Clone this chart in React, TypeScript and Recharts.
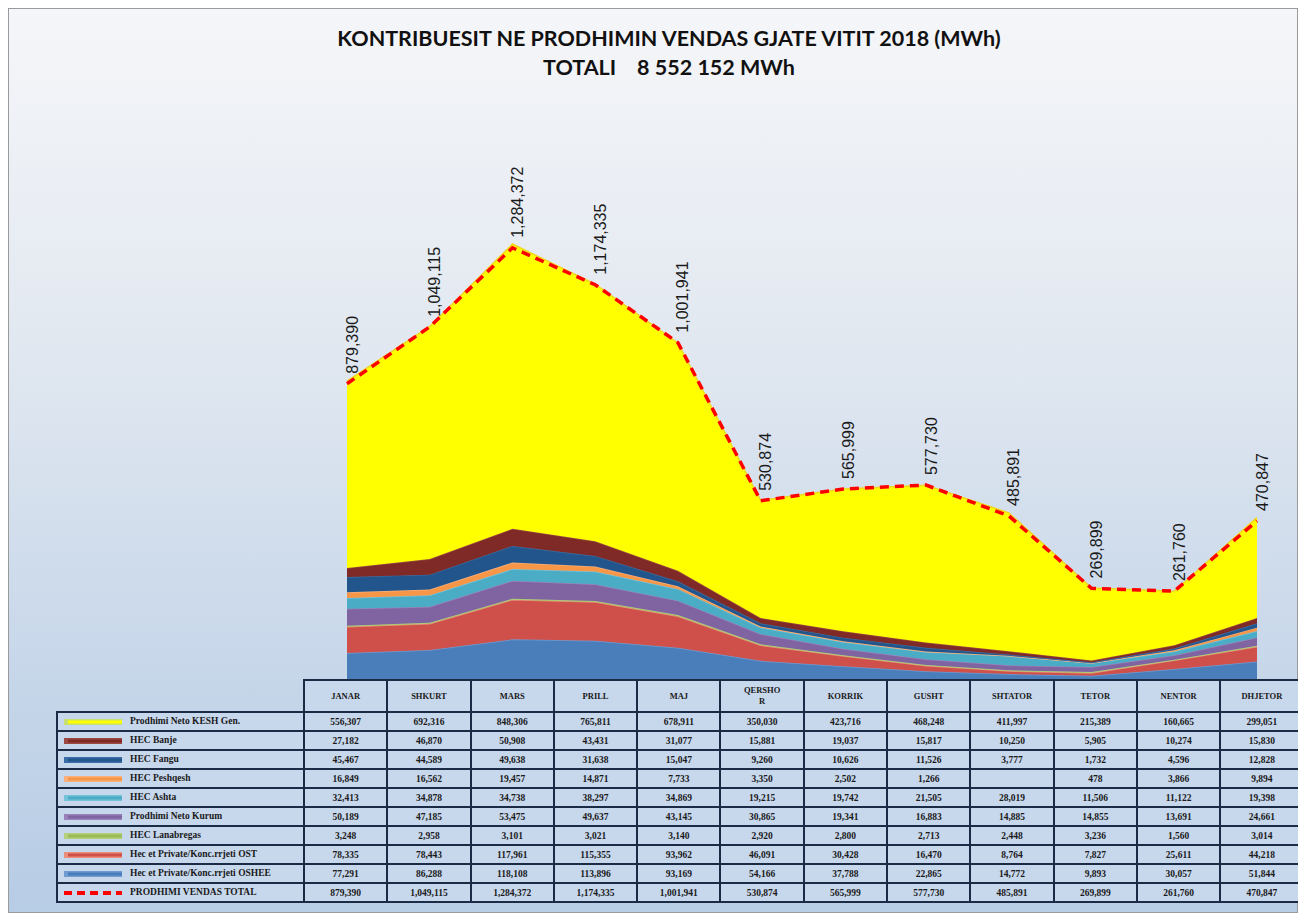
import { ComposedChart, Area, Line, XAxis, YAxis, LabelList } from "recharts";

const months = ["JANAR", "SHKURT", "MARS", "PRILL", "MAJ", "QERSHOR", "KORRIK", "GUSHT", "SHTATOR", "TETOR", "NENTOR", "DHJETOR"];
const monthHeaders = ["JANAR", "SHKURT", "MARS", "PRILL", "MAJ", "QERSHO\nR", "KORRIK", "GUSHT", "SHTATOR", "TETOR", "NENTOR", "DHJETOR"];

const kesh = [556307, 692316, 848306, 765811, 678911, 350030, 423716, 468248, 411997, 215389, 160665, 299051];
const banje = [27182, 46870, 50908, 43431, 31077, 15881, 19037, 15817, 10250, 5905, 10274, 15830];
const fangu = [45467, 44589, 49638, 31638, 15047, 9260, 10626, 11526, 3777, 1732, 4596, 12828];
const peshqesh = [16849, 16562, 19457, 14871, 7733, 3350, 2502, 1266, null, 478, 3866, 9894];
const ashta = [32413, 34878, 34738, 38297, 34869, 19215, 19742, 21505, 28019, 11506, 11122, 19398];
const kurum = [50189, 47185, 53475, 49637, 43145, 30865, 19341, 16883, 14885, 14855, 13691, 24661];
const lanabregas = [3248, 2958, 3101, 3021, 3140, 2920, 2800, 2713, 2448, 3236, 1560, 3014];
const ost = [78335, 78443, 117961, 115355, 93962, 46091, 30428, 16470, 8764, 7827, 25611, 44218];
const oshee = [77291, 86288, 118108, 113896, 93169, 54166, 37788, 22865, 14772, 9893, 30057, 51844];
const total = [879390, 1049115, 1284372, 1174335, 1001941, 530874, 565999, 577730, 485891, 269899, 261760, 470847];

// stacking order, bottom first
const series = [
  { key: "oshee", name: "Hec et Private/Konc.rrjeti OSHEE", values: oshee, fill: "#4a7ebb", stroke: "#6f9bd0" },
  { key: "ost", name: "Hec et Private/Konc.rrjeti OST", values: ost, fill: "#cf4f4a", stroke: "#e8907a" },
  { key: "lanabregas", name: "HEC Lanabregas", values: lanabregas, fill: "#9bbb59", stroke: "#b5d07a" },
  { key: "kurum", name: "Prodhimi Neto Kurum", values: kurum, fill: "#8064a2", stroke: "#9a82b8" },
  { key: "ashta", name: "HEC Ashta", values: ashta, fill: "#4bacc6", stroke: "#74c3d8" },
  { key: "peshqesh", name: "HEC Peshqesh", values: peshqesh, fill: "#f79646", stroke: "#f9b07a" },
  { key: "fangu", name: "HEC Fangu", values: fangu, fill: "#22558c", stroke: "#3a6ea5" },
  { key: "banje", name: "HEC Banje", values: banje, fill: "#7f2a26", stroke: "#9a4a40" },
  { key: "kesh", name: "Prodhimi Neto KESH Gen.", values: kesh, fill: "#ffff00", stroke: "#f0d820" },
];

const data = months.map((m, i) => {
  const row: Record<string, any> = { month: m, total: total[i] };
  series.forEach(s => { row[s.key] = s.values[i] ?? 0; });
  return row;
});

const fmt = (v: number | null) => (v == null ? "" : v.toLocaleString("en-US"));

const TotalLabel = (props: any) => {
  const { x, y, value } = props;
  return (
    <text
      transform={`translate(${x + 5},${y - 10}) rotate(-90)`}
      textAnchor="start"
      dominantBaseline="central"
      fontSize={16}
      fontFamily="Liberation Sans, Arial, sans-serif"
      fill="#1a1a1a"
    >
      {fmt(value)}
    </text>
  );
};

function Swatch({ color, border, dashed }: { color: string; border?: string; dashed?: boolean }) {
  return (
    <svg width={64} height={10} style={{ verticalAlign: "middle", marginRight: 4 }}>
      {dashed ? (
        <line x1={2} y1={5} x2={60} y2={5} stroke={color} strokeWidth={4} strokeDasharray="8 5" />
      ) : (
        <>
          <line x1={2} y1={5} x2={60} y2={5} stroke={border || color} strokeWidth={6} />
          <line x1={6} y1={5} x2={60} y2={5} stroke={color} strokeWidth={3} />
        </>
      )}
    </svg>
  );
}

const tableRows = [...series].reverse();
const cell: React.CSSProperties = {
  border: "2px solid #1c2b45",
  background: "#c7d7ec",
  textAlign: "center",
  fontFamily: "Liberation Serif, serif",
  fontWeight: "bold",
  fontSize: 9.5,
  color: "#1a1a1a",
  height: 17,
  padding: 0,
};

export default function App() {
  return (
    <div
      style={{
        position: "relative",
        width: 1290,
        height: 905,
        border: "1px solid #9a9a9a",
        boxSizing: "border-box",
        background: "linear-gradient(180deg, #f5f6f9 0%, #e3e9f1 35%, #c9d8ea 70%, #b7cce5 100%)",
      }}
    >
      <div
        style={{
          position: "absolute",
          top: 15,
          left: 15,
          width: 1290,
          textAlign: "center",
          fontFamily: "Lato, sans-serif",
          fontWeight: "bold",
          fontSize: 21.5,
          lineHeight: "29px",
          color: "#111",
        }}
      >
        <div>KONTRIBUESIT NE PRODHIMIN VENDAS GJATE VITIT 2018 (MWh)</div>
        <div style={{ whiteSpace: "pre" }}>TOTALI    8 552 152 MWh</div>
      </div>

      <div style={{ position: "absolute", top: 0, left: 0 }}>
        <ComposedChart width={1290} height={680} data={data} margin={{ top: 200, right: 42, bottom: 10, left: 338 }}>
          <XAxis dataKey="month" hide />
          <YAxis hide domain={[0, 1400000]} />
          {series.map(s => (
            <Area
              key={s.key}
              type="linear"
              dataKey={s.key}
              stackId="1"
              fill={s.fill}
              fillOpacity={1}
              stroke={s.stroke}
              strokeWidth={1.5}
              isAnimationActive={false}
            />
          ))}
          <Line
            type="linear"
            dataKey="total"
            stroke="#ff0000"
            strokeWidth={3.5}
            strokeDasharray="9 6"
            dot={false}
            isAnimationActive={false}
          >
            <LabelList dataKey="total" content={TotalLabel} />
          </Line>
        </ComposedChart>
      </div>

      <table
        style={{
          position: "absolute",
          left: 47,
          top: 670,
          width: 1247,
          borderCollapse: "collapse",
          tableLayout: "fixed",
        }}
      >
        <colgroup>
          <col style={{ width: 247 }} />
          {months.map(m => (
            <col key={m} style={{ width: 83.3 }} />
          ))}
        </colgroup>
        <thead>
          <tr>
            <th style={{ border: "none", background: "transparent" }} />
            {monthHeaders.map(m => (
              <th key={m} style={{ ...cell, height: 30, fontSize: 8.5, lineHeight: "11px", whiteSpace: "pre-line" }}>
                {m}
              </th>
            ))}
          </tr>
        </thead>
        <tbody>
          {tableRows.map(s => (
            <tr key={s.key}>
              <td style={{ ...cell, textAlign: "left", paddingLeft: 4, whiteSpace: "nowrap" }}>
                <Swatch color={s.fill} border={s.key === "kesh" ? "#c8e070" : s.stroke} />
                {s.name}
              </td>
              {s.values.map((v, i) => (
                <td key={i} style={cell}>
                  {fmt(v)}
                </td>
              ))}
            </tr>
          ))}
          <tr>
            <td style={{ ...cell, textAlign: "left", paddingLeft: 4, whiteSpace: "nowrap" }}>
              <Swatch color="#ff0000" dashed />
              PRODHIMI VENDAS TOTAL
            </td>
            {total.map((v, i) => (
              <td key={i} style={cell}>
                {fmt(v)}
              </td>
            ))}
          </tr>
        </tbody>
      </table>
    </div>
  );
}
